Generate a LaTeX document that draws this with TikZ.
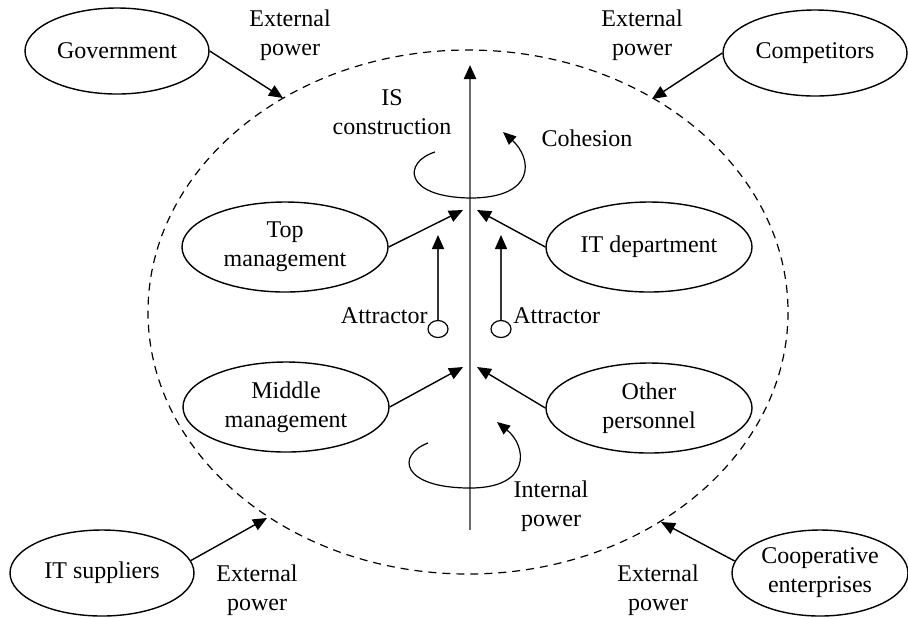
\documentclass[tikz,border=0pt]{standalone}
\usepackage{fontspec}
\setmainfont{Liberation Serif}
\usetikzlibrary{arrows.meta,shapes.geometric}

\begin{document}
\begin{tikzpicture}[x=0.5pt,y=-0.5pt,
    font=\fontsize{12}{14.5}\selectfont,
    outer/.style={draw,ellipse,line width=0.7pt,inner sep=0pt,
      minimum width=92pt,minimum height=43pt,align=center},
    inner/.style={draw,ellipse,line width=0.7pt,inner sep=0pt,
      minimum width=103pt,minimum height=45pt,align=center},
    lbl/.style={align=center,inner sep=1pt},
    arr/.style={-{Triangle[length=7pt,width=6pt,color=black]},line width=0.7pt},
    loop/.style={-{Triangle[length=6.5pt,width=5.5pt]},line width=0.6pt}]
          \useasboundingbox (0,0) rectangle (908,618);

          % boundary of the organisation
          \draw[dashed,dash pattern=on 4pt off 3pt,line width=0.6pt]
            (468,312) ellipse [x radius=320,y radius=262];

          % main axis
          \coordinate (base) at (470,530);
          \coordinate (apex) at (470,65);
          \draw[arr,line width=1.2pt,gray!85!black] (base) -- (apex);

          % outside stakeholders
          \node[outer] (gov) at (117,51) {Government};
          \node[outer] (comp) at (815,53) {Competitors};
          \node[outer] (supp) at (102,573) {IT suppliers};
          \node[outer,minimum width=88pt] (coop) at (820,573) {Cooperative\\enterprises};

          \coordinate (hit-gov) at (283,98);
          \coordinate (hit-comp) at (652,99);
          \coordinate (hit-supp) at (267,518);
          \coordinate (hit-coop) at (661,522);
          \draw[arr] (gov.east) -- (hit-gov);
          \draw[arr] (comp.west) -- (hit-comp);
          \draw[arr] (supp.8) -- (hit-supp);
          \draw[arr] (coop.172) -- (hit-coop);

          \node[lbl] (ext-gov) at (290,35) {External\\power};
          \node[lbl] (ext-comp) at (642,35) {External\\power};
          \node[lbl] (ext-supp) at (257,590) {External\\power};
          \node[lbl] (ext-coop) at (658,590) {External\\power};

          % inside stakeholders
          \node[inner] (top) at (285,247) {Top\\management};
          \node[inner] (itd) at (649,247) {IT department};
          \node[inner] (mid) at (286,407) {Middle\\management};
          \node[inner] (oth) at (649,408) {Other\\personnel};

          \coordinate (top-l) at (463,210);
          \coordinate (top-r) at (477,210);
          \coordinate (low-l) at (463,367);
          \coordinate (low-r) at (477,367);
          \draw[arr] (top.east) -- (top-l);
          \draw[arr] (itd.west) -- (top-r);
          \draw[arr] (mid.east) -- (low-l);
          \draw[arr] (oth.west) -- (low-r);

          % attractors
          \node[draw,ellipse,line width=0.6pt,minimum width=10pt,minimum height=8.5pt,inner sep=0pt]
            (att-l) at (438,329) {};
          \node[draw,ellipse,line width=0.6pt,minimum width=10pt,minimum height=8.5pt,inner sep=0pt]
            (att-r) at (501,329) {};
          \coordinate (pull-l) at (438,235);
          \coordinate (pull-r) at (501,235);
          \draw[arr,gray!40!black] (att-l.north) -- (pull-l);
          \draw[arr,gray!40!black] (att-r.north) -- (pull-r);
          \node[lbl,anchor=east] (attl-txt) at (430,316) {Attractor};
          \node[lbl,anchor=west] (attr-txt) at (511,316) {Attractor};

          % rotations round the axis
          \draw[loop] (435,152) .. controls (403,162) and (403,197) .. (470,198)
            .. controls (537,198) and (532,158) .. (503,132);
          \draw[loop] (428,443) .. controls (396,455) and (401,488) .. (470,488)
            .. controls (532,488) and (527,446) .. (497,422);

          \node[lbl] (is) at (392,112) {IS\\construction};
          \node[lbl] (coh) at (587,138) {Cohesion};
          \node[lbl] (intp) at (551,506) {Internal\\power};
        \end{tikzpicture}
\end{document}
